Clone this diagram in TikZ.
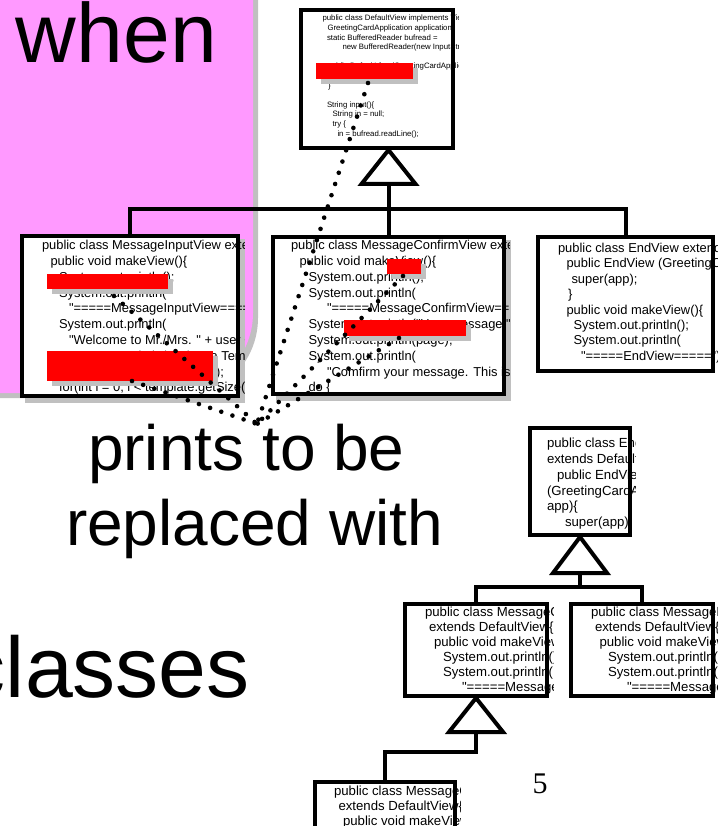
\documentclass[tikz,border=0pt]{standalone}
\usepackage{fontspec}
\setmainfont{Liberation Sans}
\newfontfamily\codefont{Liberation Sans}
\newfontfamily\numfont{Liberation Serif}
\usetikzlibrary{shadows}

\definecolor{slidepink}{HTML}{FF99FF}
\definecolor{shadowgray}{HTML}{C0C0C0}
\definecolor{maskred}{HTML}{FF0000}

\newcommand\ind[1]{\hspace*{#1pt}}

\begin{document}
\begin{tikzpicture}[x=1pt, y=-1pt,
  classbox/.style={draw=black, line width=4pt, fill=white, inner sep=0pt},
  boxshadow/.style={general shadow={fill=shadowgray, draw=shadowgray, shadow xshift=5pt, shadow yshift=-5pt}},
  codetext/.style={anchor=north west, inner sep=0pt, outer sep=0pt, align=left},
  redmask/.style={fill=maskred, inner sep=0pt, outer sep=0pt,
    general shadow={fill=shadowgray, shadow xshift=5pt, shadow yshift=-5pt}},
  link/.style={line width=4pt},
  genhead/.style={line width=4pt, fill=white, line join=miter},
  dotline/.style={line width=4.6pt, line cap=round, dash pattern=on 0pt off 11.8pt},
  slidetext/.style={anchor=base west, inner sep=0pt, outer sep=0pt, text=black}
]
\clip (0,0) rectangle (717,826);

% pink slide panel with its shadow
\fill[shadowgray] (-10,-10) -- (258,-10) -- (258,318)
  .. controls (258,362.2) and (222.2,398) .. (178,398) -- (-10,398) -- cycle;
\fill[slidepink] (-10,-10) -- (253,-10) -- (253,313)
  .. controls (253,357.2) and (217.2,393) .. (173,393) -- (-10,393) -- cycle;

% class boxes
\node[classbox, minimum width=152pt, minimum height=138pt] (defview) at (377,79) {};
\node[classbox, boxshadow, minimum width=216pt, minimum height=160pt] (inview) at (130,316) {};
\node[classbox, boxshadow, minimum width=231pt, minimum height=157pt] (confview) at (388.5,315.5) {};
\node[classbox, minimum width=175pt, minimum height=134pt] (endview) at (625.5,304) {};
\node[classbox, minimum width=100pt, minimum height=107pt] (endsmall) at (580,481.5) {};
\node[classbox, minimum width=142pt, minimum height=92pt] (msgc) at (476,650) {};
\node[classbox, minimum width=142pt, minimum height=92pt] (msgi) at (642,650) {};
\node[classbox, minimum width=140pt, minimum height=98pt] (msgsub) at (385,831) {};

% source code inside the boxes
\begin{scope}
\clip (defview.north west) rectangle ([xshift=3pt]defview.south east);
\node[codetext, font=\codefont\fontsize{7.8}{9.6}\selectfont] (defcode) at (322.5,14.1) {%
\strut public class DefaultView implements View \{\\
\ind{5}GreetingCardApplication application;\\
\ind{4.5}static BufferedReader bufread =\\
\ind{20}new BufferedReader(new InputStreamReader(System.in));\\
\strut\\
\ind{5}public DefaultView(GreetingCardApplication app)\{\\
\ind{10}this.application = app;\\
\ind{5.5}\}\\
\strut\\
\ind{4.5}String input()\{\\
\ind{10}String in = null;\\
\ind{10}try \{\\
\ind{15}in = bufread.readLine();};
\end{scope}

\begin{scope}
\clip (inview.north west) rectangle ([xshift=4pt]inview.south east);
\node[codetext, font=\codefont\fontsize{12.9}{15.8}\selectfont] (incode) at (42,238.6) {%
\strut public class MessageInputView extends DefaultView\{\\
\ind{8.5}public void makeView()\{\\
\ind{17}System.out.println();\\
\ind{17}System.out.println(\\
\ind{27}"=====MessageInputView=====");\\
\ind{17}System.out.println(\\
\ind{27}"Welcome to Mr./Mrs. " + user + "!");\\
\ind{17}System.out.println("Select a Template");\\
\ind{17}System.out.println(template);\\
\ind{17}for(int i = 0; i < template.getSize(); i++)\{};
\end{scope}

\begin{scope}
\clip (confview.north west) rectangle ([xshift=3pt]confview.south east);
\node[codetext, font=\codefont\fontsize{12.9}{15.8}\selectfont] (confcode) at (291,238.6) {%
\strut public class MessageConfirmView extends DefaultView\{\\
\ind{8.5}public void makeView()\{\\
\ind{17.5}System.out.println();\\
\ind{17.5}System.out.println(\\
\ind{36}"=====MessageConfirmView=====");\\
\ind{17.5}System.out.println("Your message:");\\
\ind{17.5}System.out.println(page);\\
\ind{17.5}System.out.println(\\
\ind{36}"Comfirm your message. This is OK?");\\
\ind{17.5}do \{};
\end{scope}

\begin{scope}
\clip (endview.north west) rectangle ([xshift=3pt]endview.south east);
\node[codetext, font=\codefont\fontsize{12.9}{15.4}\selectfont] (endcode) at (558,241.8) {%
\strut public class EndView extends DefaultView\{\\
\ind{8.5}public EndView (GreetingCardApplication app)\{\\
\ind{13.5}super(app);\\
\ind{10}\}\\
\ind{8.5}public void makeView()\{\\
\ind{15.5}System.out.println();\\
\ind{15.5}System.out.println(\\
\ind{23}"=====EndView=====");};
\end{scope}

\begin{scope}
\clip (endsmall.north west) rectangle ([xshift=3pt]endsmall.south east);
\node[codetext, font=\codefont\fontsize{13.2}{15.8}\selectfont] (endsmallcode) at (547,436.7) {%
\strut public class EndView\\
extends DefaultView\{\\
\ind{10}public EndView\\
(GreetingCardApplication\\
app)\{\\
\ind{18}super(app);};
\end{scope}

\begin{scope}
\clip (msgc.north west) rectangle ([xshift=4pt]msgc.south east);
\node[codetext, font=\codefont\fontsize{13.2}{15}\selectfont] (msgccode) at (425,606.3) {%
\strut public class MessageConfirmView\\
\ind{4}extends DefaultView\{\\
\ind{9}public void makeView()\{\\
\ind{18}System.out.println();\\
\ind{18}System.out.println(\\
\ind{37}"=====MessageConfirmView=====");};
\end{scope}

\begin{scope}
\clip (msgi.north west) rectangle ([xshift=3pt]msgi.south east);
\node[codetext, font=\codefont\fontsize{13.2}{15}\selectfont] (msgicode) at (591,606.3) {%
\strut public class MessageInputView\\
\ind{4}extends DefaultView\{\\
\ind{8.5}public void makeView()\{\\
\ind{17}System.out.println();\\
\ind{17}System.out.println(\\
\ind{36}"=====MessageInputView=====");};
\end{scope}

\begin{scope}
\clip (msgsub.north west) rectangle ([xshift=3pt]msgsub.south east);
\node[codetext, font=\codefont\fontsize{13.2}{15}\selectfont] (msgsubcode) at (334,785.3) {%
\strut public class MessageConfirmView\\
\ind{4.5}extends DefaultView\{\\
\ind{9}public void makeView()\{\\
\ind{18}System.out.println();};
\end{scope}

% red masks over the print statements
\node[redmask, minimum width=97pt, minimum height=16pt] (maskdef) at (364.5,71) {};
\node[redmask, minimum width=121pt, minimum height=15pt] (maskin1) at (107.5,281.5) {};
\node[redmask, minimum width=166pt, minimum height=30pt] (maskin2) at (130,366) {};
\node[redmask, minimum width=34pt, minimum height=15pt] (maskcf1) at (404,266.5) {};
\node[redmask, minimum width=122pt, minimum height=16pt] (maskcf2) at (405,328) {};

% inheritance connectors, upper hierarchy
\coordinate (bar1) at (0,209);
\coordinate (apex1) at (defview.south -| confview.north);
\coordinate (base1) at ([yshift=-34pt]apex1);
\draw[genhead] (apex1) -- ++(-27,34) -- ++(54,0) -- cycle;
\draw[link] (base1) -- (confview.north);
\draw[link] (inview.north) -- (inview.north |- bar1) -- (endview.north |- bar1) -- (endview.north);

% inheritance connectors, lower hierarchy
\coordinate (apex2) at (endsmall.south);
\coordinate (base2) at ([yshift=-36pt]apex2);
\coordinate (bar2) at (0,587);
\draw[genhead] (apex2) -- ++(-27,36) -- ++(54,0) -- cycle;
\draw[link] (base2) -- (base2 |- bar2);
\draw[link] (msgc.north) -- (msgc.north |- bar2) -- (msgi.north |- bar2) -- (msgi.north);
\coordinate (apex3) at (msgc.south);
\coordinate (base3) at ([yshift=-34pt]apex3);
\coordinate (bar3) at (0,752);
\draw[genhead] (apex3) -- ++(-27,34) -- ++(54,0) -- cycle;
\draw[link] (base3) -- (base3 |- bar3) -- (msgsub.north |- bar3) -- (msgsub.north);

% dotted leaders from the masked prints
\coordinate (hub) at (257,424);
\coordinate (fromdef) at (368,83);
\coordinate (fromin1) at (114,296);
\coordinate (fromin2) at (132,381);
\coordinate (fromcf1) at (403,276);
\coordinate (fromcf2) at (399,338);
\draw[dotline] (fromdef) -- (hub);
\draw[dotline] (fromin1) -- (hub);
\draw[dotline] (fromin2) -- (hub);
\draw[dotline] (fromcf1) -- (hub);
\draw[dotline] (fromcf2) -- (hub);

% slide text
\node[slidetext, font=\fontsize{84}{90}\selectfont] (whenlbl) at (16,63) {when};
\node[slidetext, font=\fontsize{64}{70}\selectfont] (printslbl) at (88,470) {prints to be};
\node[slidetext, font=\fontsize{64}{70}\selectfont] (replacedlbl) at (66,545) {replaced with};
\node[slidetext, font=\fontsize{86}{90}\selectfont] (classeslbl) at (-37,697) {classes};
\node[anchor=base, inner sep=0pt, font=\numfont\fontsize{30}{32}\selectfont] (pagenum) at (540,793) {5};
\end{tikzpicture}
\end{document}
